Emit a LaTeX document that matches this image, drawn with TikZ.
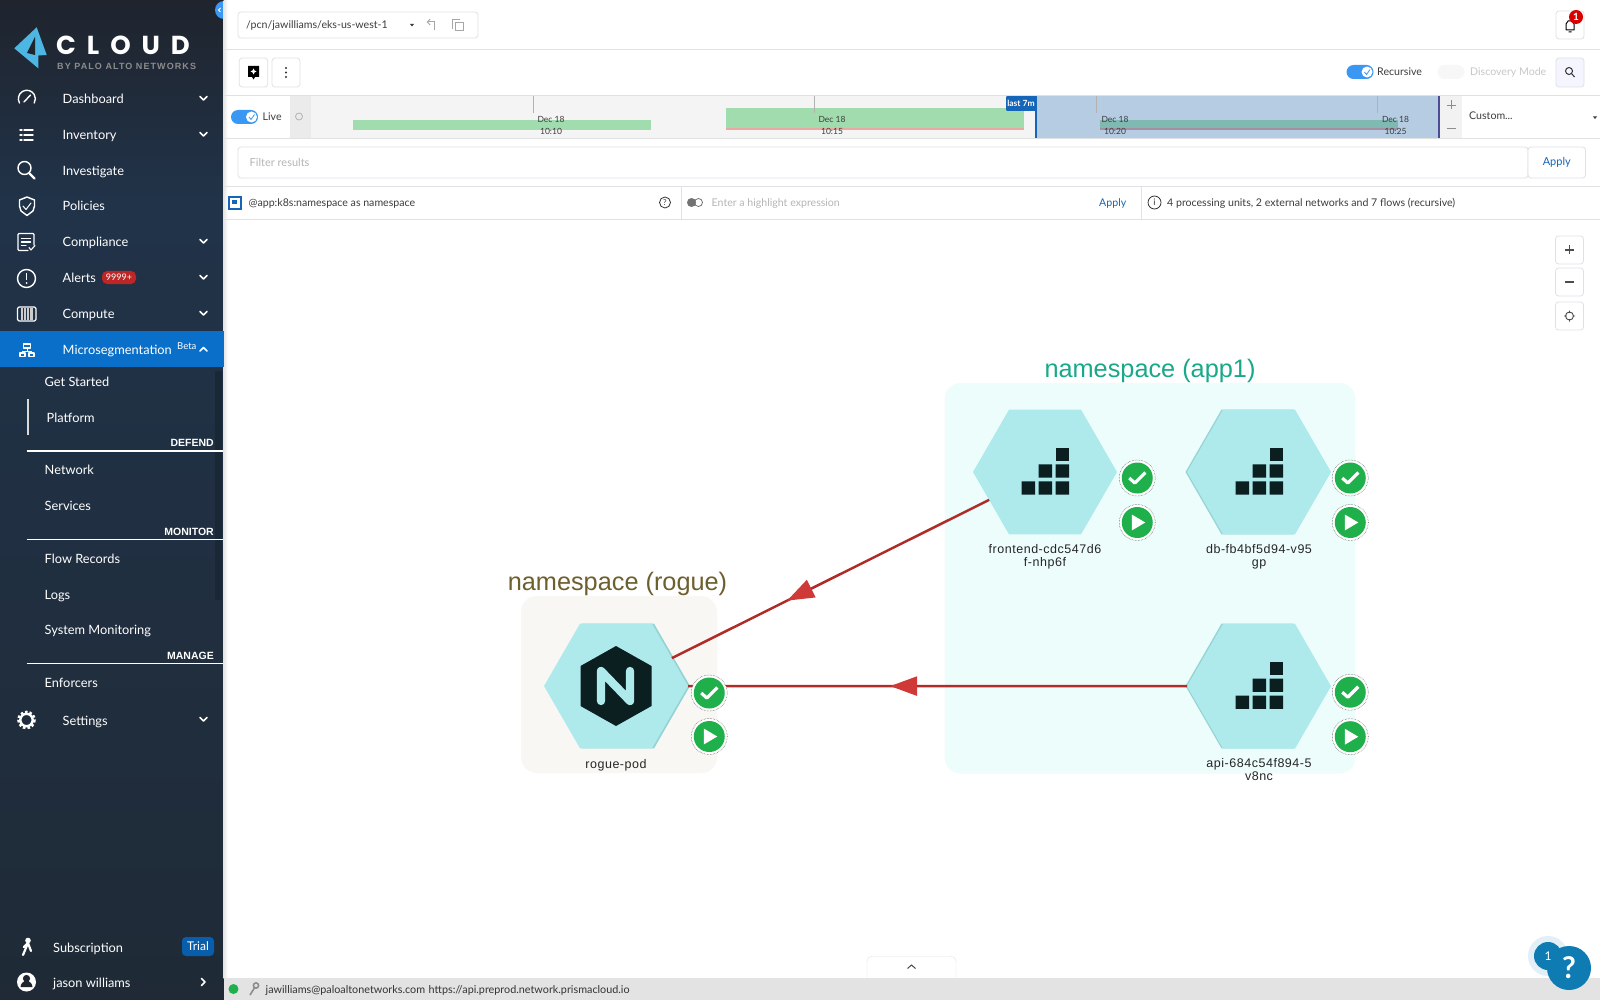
\documentclass[tikz,border=0pt]{standalone}
\usepackage{fontspec}
\setmainfont{Lato}
\newfontfamily\helvfont{Liberation Sans}
\newfontfamily\logofont{Poppins}
\usetikzlibrary{shapes.geometric, arrows.meta, positioning, decorations.markings}

\definecolor{sidetop}{HTML}{1F242D}
\definecolor{sidemid}{HTML}{213349}
\definecolor{sideend}{HTML}{1F2A36}
\definecolor{sideblue}{HTML}{0A6FC9}
\definecolor{sidescroll}{HTML}{1A2836}
\definecolor{logoblue}{HTML}{4DB6E2}
\definecolor{linkblue}{HTML}{1565B8}
\definecolor{togglebg}{HTML}{3A97F3}
\definecolor{rulegrey}{HTML}{DFE1E3}
\definecolor{textgrey}{HTML}{3C3C3C}
\definecolor{paletext}{HTML}{B5B5B5}
\definecolor{tlgrey}{HTML}{F4F4F4}
\definecolor{tlgreen}{HTML}{A0DCAE}
\definecolor{tlred}{HTML}{EBA8A0}
\definecolor{tlblue}{HTML}{B6CCE3}
\definecolor{tlteal}{HTML}{7FB9B2}
\definecolor{tlmauve}{HTML}{A58EA0}
\definecolor{hexfill}{HTML}{AEEAEC}
\definecolor{hexshade}{HTML}{93D3D3}
\definecolor{hexdark}{HTML}{0B1E20}
\definecolor{appfill}{HTML}{EDFDFB}
\definecolor{roguefill}{HTML}{F9F7F4}
\definecolor{apptitle}{HTML}{1AA88A}
\definecolor{roguetitle}{HTML}{6E5F2E}
\definecolor{flowline}{HTML}{B02C28}
\definecolor{flowhead}{HTML}{CF3A38}
\definecolor{badgegreen}{HTML}{1FB04B}
\definecolor{helpblue}{HTML}{0E7BB3}

\tikzstyle{sideitem} = [anchor=base west, inner sep=0pt, text=white, font=\fontsize{12.8}{15}\selectfont]
\tikzstyle{sidehead} = [anchor=base east, inner sep=0pt, text=white, font=\helvfont\bfseries\fontsize{10.5}{12}\selectfont]
\tikzstyle{sideicon} = [white, line width=1.4pt, line cap=round, line join=round]
\tikzstyle{chevron} = [white, line width=1.5pt, line cap=round, line join=round]
\tikzstyle{siderule} = [white, line width=1.2pt]
\tikzstyle{uibutton} = [rectangle, rounded corners=3pt, draw=rulegrey, fill=white, inner sep=0pt, line width=.8pt]
\tikzstyle{uitext} = [anchor=base west, inner sep=0pt, text=textgrey, font=\fontsize{10.6}{13}\selectfont]
\tikzstyle{uirule} = [rulegrey, line width=.9pt]
\tikzstyle{ticktext} = [anchor=base, inner sep=0pt, text=textgrey, font=\fontsize{8.5}{10}\selectfont]
\tikzstyle{tick} = [black!30, line width=.6pt]
\tikzstyle{toggle} = [rectangle, rounded corners=7pt, fill=togglebg, inner sep=0pt, minimum width=27pt, minimum height=14pt]
\tikzstyle{groupbox} = [rectangle, rounded corners=16pt, inner sep=0pt]
\tikzstyle{grouptitle} = [inner sep=0pt, font=\helvfont\fontsize{25.3}{29}\selectfont]
\tikzstyle{podshade} = [regular polygon, regular polygon sides=6, minimum size=144pt, inner sep=0pt, outer sep=0pt, fill=hexshade]
\tikzstyle{stackhex} = [regular polygon, regular polygon sides=6, minimum size=144pt, inner sep=0pt, outer sep=0pt, fill=hexfill,
  path picture={\begin{scope}[shift={(path picture bounding box.center)}]
    \fill [hexdark] (-23.3,9.3) rectangle ++(13.3,13.3) (-6.3,9.3) rectangle ++(13.3,13.3) (10.7,9.3) rectangle ++(13.3,13.3);
    \fill [hexdark] (-6.3,-7.7) rectangle ++(13.3,13.3) (10.7,-7.7) rectangle ++(13.3,13.3);
    \fill [hexdark] (10.7,-24.4) rectangle ++(13.3,13.3);
  \end{scope}}]
\tikzstyle{nginxhex} = [regular polygon, regular polygon sides=6, minimum size=144pt, inner sep=0pt, outer sep=0pt, fill=hexfill,
  path picture={\begin{scope}[shift={(path picture bounding box.center)}]
    \fill [hexdark] (0,-40) -- (35.5,-20) -- (35.5,20) -- (0,40) -- (-35.5,20) -- (-35.5,-20) -- cycle;
    \draw [hexfill, line width=8.3pt, line cap=round, line join=round] (-15,15) -- (-15,-15) -- (14,15) -- (14,-15);
  \end{scope}}]
\tikzstyle{podlabel} = [inner sep=0pt, align=center, text=black!85, font=\helvfont\fontsize{12.5}{13}\selectfont\addfontfeature{LetterSpace=4.2}]
\tikzstyle{okbadge} = [circle, minimum size=36pt, inner sep=0pt, draw=black!70, densely dotted, line width=.5pt, fill=white,
  path picture={\begin{scope}[shift={(path picture bounding box.center)}]
    \fill [badgegreen] (0,0) circle [radius=15.5pt];
    \draw [white, solid, line width=3.2pt, line join=round] (-8,0) -- (-2.5,5) -- (8,-5.5);
  \end{scope}}]
\tikzstyle{playbadge} = [circle, minimum size=36pt, inner sep=0pt, draw=black!70, densely dotted, line width=.5pt, fill=white,
  path picture={\begin{scope}[shift={(path picture bounding box.center)}]
    \fill [badgegreen] (0,0) circle [radius=15.5pt];
    \fill [white] (-5.5,-8) -- (8,0) -- (-5.5,8) -- cycle;
  \end{scope}}]
\tikzstyle{flow} = [flowline, line width=2.5pt, postaction={decorate}]
\tikzstyle{flowarrow} = [decoration={markings, mark=at position #1 with {\arrow{Triangle[length=27pt,width=19pt,color=flowhead]}}}]

\begin{document}
\begin{tikzpicture}[x=1pt, y=-1pt]
\useasboundingbox (0,0) rectangle (1600,1000);

% Sidebar
\shade [top color=sidetop, bottom color=sidemid] (0,0) rectangle (224,200);
\shade [top color=sidemid, bottom color=sideend] (0,200) rectangle (224,1000);
\fill [togglebg] (224,10) circle [radius=9];
\draw [white, line width=1pt] (220.5,8) -- (218.5,10) -- (220.5,12);
\fill [white] (223.5,0) rectangle (1600,1000);
\shade [left color=black!10, right color=white] (223.5,0) rectangle (228,978);
\fill [sideblue] (0,331) rectangle (224,367);
\fill [sidescroll] (215,371) rectangle (222,600);

% Logo
\fill [logoblue] (36.7,27.3) -- (46.7,55) -- (38.3,55.5) -- (38.3,68.3) -- (14.3,48.3) -- cycle;
\fill [sidetop] (35,37) -- (27,53) -- (35,55) -- cycle;
\node (cloudword) [anchor=base west, inner sep=0pt, text=white, font=\logofont\bfseries\fontsize{26}{28}\selectfont\addfontfeature{LetterSpace=42}] at (56,55) {CLOUD};
\node (cloudsub) [anchor=base west, inner sep=0pt, text=black!45, font=\helvfont\bfseries\fontsize{9}{10}\selectfont\addfontfeature{LetterSpace=12}] at (57,70) {BY PALO ALTO NETWORKS};

% Sidebar entries
\node (dashboard) [sideitem] at (62.5,104) {Dashboard};
\node (inventory) [sideitem] at (62.5,140) {Inventory};
\node (investigate) [sideitem] at (62.5,176) {Investigate};
\node (policies) [sideitem] at (62.5,211) {Policies};
\node (compliance) [sideitem] at (62.5,247) {Compliance};
\node (alerts) [sideitem] at (62.5,283) {Alerts};
\node (compute) [sideitem] at (62.5,318) {Compute};
\node (microseg) [sideitem] at (62.5,354) {Microsegmentation};
\node (getstarted) [sideitem] at (44.5,386) {Get Started};
\node (platform) [sideitem] at (46.5,422) {Platform};
\node (network) [sideitem] at (44.5,474) {Network};
\node (services) [sideitem] at (44.5,510) {Services};
\node (flowrecords) [sideitem] at (44.5,563) {Flow Records};
\node (logs) [sideitem] at (44.5,599) {Logs};
\node (sysmon) [sideitem] at (44.5,634) {System Monitoring};
\node (enforcers) [sideitem] at (44.5,687) {Enforcers};
\node (settings) [sideitem] at (62.5,725) {Settings};
\node (subscription) [sideitem] at (53,952) {Subscription};
\node (jason) [sideitem] at (53,987) {jason williams};
\node (defend) [sidehead] at (214,446.5) {DEFEND};
\node (monitor) [sidehead] at (214,535) {MONITOR};
\node (manage) [sidehead] at (214,659) {MANAGE};
\node (betatag) [anchor=base west, inner sep=0pt, text=white, font=\fontsize{9.5}{11}\selectfont] at (177,349) {Beta};
\node (alertcount) [rectangle, rounded corners=5pt, fill=red!70!black!85, text=white, inner sep=0pt, minimum width=34pt, minimum height=13pt, font=\fontsize{9}{10}\selectfont] at (119,277.5) {9999+};
\node (trialtag) [rectangle, rounded corners=4pt, fill=sideblue!85!black, text=white, inner sep=0pt, minimum width=32pt, minimum height=19pt, font=\fontsize{12}{14}\selectfont] at (198,946.5) {Trial};
\draw [siderule] (26.7,451) -- (223,451);
\draw [siderule] (26.7,539.7) -- (223,539.7);
\draw [siderule] (26.7,663.7) -- (223,663.7);
\draw [white!85!black, line width=2.2pt] (27.7,399) -- (27.7,435);

% Chevrons
\draw [chevron] (200,96.5) -- (203.5,100) -- (207,96.5);
\draw [chevron] (200,132.5) -- (203.5,136) -- (207,132.5);
\draw [chevron] (200,239.5) -- (203.5,243) -- (207,239.5);
\draw [chevron] (200,275.5) -- (203.5,279) -- (207,275.5);
\draw [chevron] (200,311.5) -- (203.5,315) -- (207,311.5);
\draw [chevron] (200,351) -- (203.5,347.5) -- (207,351);
\draw [chevron] (200,717.5) -- (203.5,721) -- (207,717.5);
\draw [chevron] (201.5,978.5) -- (205,982) -- (201.5,985.5);

% Sidebar icons
\draw [sideicon] (19.5,103) arc [start angle=150, end angle=390, radius=8.5];
\draw [sideicon] (24,102) -- (30.5,95);
\draw [sideicon] (24,130) -- (33,130) (24,135) -- (33,135) (24,140) -- (33,140) (20,130) -- (22,130) (20,135) -- (22,135) (20,140) -- (22,140);
\draw [sideicon] (24.5,168) circle [radius=6.5];
\draw [sideicon, line width=2.4pt] (29.5,173.5) -- (34.5,178.5);
\draw [sideicon] (27,197) -- (34.5,200) -- (34.5,206) -- (33,211) -- (27,215.5) -- (21,211) -- (19.5,206) -- (19.5,200) -- cycle;
\draw [sideicon, line width=1pt] (23,206) -- (26,209.5) -- (31,203);
\draw [sideicon, rounded corners=1pt] (34,245) -- (34,233.5) -- (18,233.5) -- (18,250.5) -- (28,250.5);
\draw [sideicon] (21.5,238.5) -- (30.5,238.5) (21.5,242) -- (30.5,242) (21.5,245.5) -- (26,245.5);
\draw [sideicon, line width=1.1pt] (29,247.5) -- (31,250) -- (35,245.5);
\draw [sideicon] (26.5,278.5) circle [radius=9];
\draw [sideicon] (26.5,273.5) -- (26.5,279.5);
\fill [white] (26.5,283) circle [radius=1];
\draw [sideicon, rounded corners=1.5pt, line width=1.1pt] (17.5,307) rectangle (36,321);
\fill [white!80!black] (21,308) rectangle (33,320);
\draw [sidemid, line width=.7pt] (23.5,308) -- (23.5,320) (26.5,308) -- (26.5,320) (29.5,308) -- (29.5,320);
\draw [sideicon, line width=1.2pt] (23.5,344) rectangle (30.5,348) (20,353) rectangle (25,356.5) (29,353) rectangle (34,356.5);
\draw [sideicon, line width=1pt] (27,348) -- (27,351) (22.5,353) -- (22.5,351) -- (31.5,351) -- (31.5,353);
\draw [white, line width=2.6pt, dash pattern=on 2.5pt off 2pt] (26.5,720) circle [radius=8];
\draw [white, line width=2.4pt] (26.5,720) circle [radius=6.2];
\draw [sideicon, line width=2.2pt] (23,955) -- (28,943) -- (31,951) (28,943) -- (24,947);
\fill [white] (28,940.5) circle [radius=2.8];
\fill [white] (26.5,982) circle [radius=9.5];
\fill [sidetop] (26.5,978.5) circle [radius=3.6] (20.5,987) arc [start angle=180, end angle=360, radius=6];

% Top bar
\node (pathbox) [uibutton, minimum width=240pt, minimum height=26pt] at (358,25) {};
\node (pathtext) [uitext] at (246,29) {/pcn/jawilliams/eks-us-west-1};
\fill [textgrey] (410,24) -- (414,24) -- (412,26.5) -- cycle;
\draw [black!35, line width=1pt, -{Straight Barb[length=3pt]}] (434,30) -- (434,22) -- (426.5,22);
\draw [black!35, line width=1pt] (455,22.5) rectangle (463,31) (453,29) -- (452,29) -- (452,20) -- (460,20);
\node (bellbutton) [uibutton, minimum width=28pt, minimum height=28pt] at (1570,25) {};
\draw [black, line width=1pt, line join=round] (1566,30) -- (1566,24) -- (1568,21) -- (1572,21) -- (1574,24) -- (1574,30) -- cycle (1568.5,32) -- (1571.5,32);
\node (bellcount) [circle, fill=red!85!black, text=white, inner sep=0pt, minimum size=14pt, font=\bfseries\fontsize{10}{12}\selectfont] at (1576,17) {1};
\draw [uirule] (224,49.5) -- (1600,49.5);

% Tool row
\node (pinbutton) [uibutton, minimum width=28.5pt, minimum height=29pt] at (253.5,72.5) {};
\node (morebutton) [uibutton, minimum width=28pt, minimum height=29pt] at (286,72.5) {};
\fill [black] (248,66) rectangle (259,77) (252,77) -- (255,77) -- (253.5,79.5) -- cycle;
\fill [white] (253.5,68.5) -- (254.5,70.5) -- (256.5,71.5) -- (254.5,72.5) -- (253.5,74.5) -- (252.5,72.5) -- (250.5,71.5) -- (252.5,70.5) -- cycle;
\fill [black!80] (286,68) circle [radius=1.2] (286,72.5) circle [radius=1.2] (286,77) circle [radius=1.2];
\node (recursivetoggle) [toggle] at (1360,72) {};
\fill [white] (1367,72) circle [radius=5.5];
\draw [togglebg, line width=.8pt] (1364.5,72) -- (1366.5,74.5) -- (1370,69.5);
\node (recursivetext) [uitext] at (1377,76) {Recursive};
\node (discoverytoggle) [toggle, fill=black!3] at (1451,72) {};
\node (discoverytext) [uitext, text=black!22] at (1470,76) {Discovery Mode};
\node (searchbutton) [uibutton, fill=blue!4, minimum width=28pt, minimum height=29pt] at (1570,72.5) {};
\draw [black!80, line width=1pt] (1569,71) circle [radius=3.5] (1571.5,73.5) -- (1574.5,77);

% Timeline
\fill [black!8] (290,96) rectangle (311,138);
\fill [tlgrey] (311,96) rectangle (1036,138);
\fill [tlblue] (1036,96) rectangle (1439,138);
\fill [black!5] (1439,96) rectangle (1461.5,138);
\fill [tlgreen] (352.5,120) rectangle (651,130);
\fill [tlgreen] (726,108) rectangle (1024,128);
\fill [tlred] (726,128) rectangle (1024,130);
\fill [tlteal] (1100,120) rectangle (1398,128);
\fill [tlmauve] (1100,128) rectangle (1398,130);
\draw [tick] (533,96) -- (533,113);
\draw [tick] (814.5,96) -- (814.5,113);
\draw [tick] (1096,96) -- (1096,113);
\draw [tick] (1377,96) -- (1377,113);
\node (dateone) [ticktext] at (551,123) {Dec 18};
\node (timeone) [ticktext] at (551,135) {10:10};
\node (datetwo) [ticktext] at (832,123) {Dec 18};
\node (timetwo) [ticktext] at (832,135) {10:15};
\node (datethree) [ticktext] at (1115,123) {Dec 18};
\node (timethree) [ticktext] at (1115,135) {10:20};
\node (datefour) [ticktext] at (1395.5,123) {Dec 18};
\node (timefour) [ticktext] at (1395.5,135) {10:25};
\draw [linkblue, line width=1.5pt] (1036,96) -- (1036,138);
\draw [black!30!blue!40!gray, line width=1.5pt] (1439,96) -- (1439,138);
\node (lastflag) [rectangle, rounded corners=1pt, fill=linkblue, text=white, inner sep=0pt, minimum width=30pt, minimum height=15pt, font=\bfseries\fontsize{8.5}{10}\selectfont] at (1021,103.5) {last 7m};
\node (livetoggle) [toggle] at (244.5,117) {};
\fill [white] (251.5,117) circle [radius=5.5];
\draw [togglebg, line width=.8pt] (249,117) -- (251,119.5) -- (254.5,114.5);
\node (livetext) [uitext] at (262.5,121) {Live};
\draw [black!30, line width=.8pt] (299,116.5) circle [radius=3.5];
\draw [black!45, line width=.9pt] (1446.5,105) -- (1455.5,105) (1451,100.5) -- (1451,109.5) (1446.5,128) -- (1455.5,128);
\node (customtext) [uitext] at (1469,120) {Custom...};
\fill [textgrey] (1593,116.5) -- (1597,116.5) -- (1595,119) -- cycle;
\draw [uirule] (224,95.5) -- (1600,95.5);
\draw [uirule] (224,138.5) -- (1600,138.5);

% Filter row
\node (filterbox) [uibutton, minimum width=1290pt, minimum height=31pt] at (883,162.5) {};
\node (filtertext) [uitext, text=paletext, font=\fontsize{11}{13}\selectfont] at (249.5,166.5) {Filter results};
\node (filterapply) [uibutton, minimum width=57.5pt, minimum height=31pt, text=linkblue, font=\fontsize{11}{13}\selectfont] at (1556.75,162.5) {Apply};
\draw [uirule] (224,186) -- (1600,186);

% Highlight row
\draw [linkblue, line width=1.5pt] (229,197) rectangle (241,209);
\fill [linkblue] (232,200) rectangle (236.5,204.5);
\node (groupquery) [uitext] at (248.5,206.5) {@app:k8s:namespace as namespace};
\node (queryhelp) [circle, draw=black!80, line width=.8pt, inner sep=0pt, minimum size=11pt, text=black!80, font=\fontsize{8}{9}\selectfont] at (665,202.5) {?};
\draw [uirule] (681.5,186) -- (681.5,219);
\fill [black!55] (691.5,202.5) circle [radius=4.5];
\draw [black!55, line width=.8pt] (698.5,202.5) circle [radius=4];
\node (hilitetext) [uitext, text=paletext] at (711.5,206.5) {Enter a highlight expression};
\node (hiliteapply) [uitext, text=linkblue] at (1099,206.5) {Apply};
\draw [uirule] (1141,186) -- (1141,219);
\node (infoicon) [circle, draw=black!80, line width=.8pt, inner sep=0pt, minimum size=13pt, text=black!80, font=\fontsize{9}{10}\selectfont] at (1154.5,202.5) {i};
\node (infotext) [uitext] at (1167,206.5) {4 processing units, 2 external networks and 7 flows (recursive)};
\draw [uirule] (224,219) -- (1600,219);

% Zoom buttons
\node (zoomin) [uibutton, minimum width=28pt, minimum height=28pt] at (1569.5,250) {};
\node (zoomout) [uibutton, minimum width=28pt, minimum height=28pt] at (1569.5,282) {};
\node (recenter) [uibutton, minimum width=28pt, minimum height=28pt] at (1569.5,316) {};
\draw [black!70, line width=1.2pt] (1565,250) -- (1574,250) (1569.5,245.5) -- (1569.5,254.5);
\draw [black!70, line width=1.2pt] (1565,282) -- (1574,282);
\draw [black!70, line width=.9pt] (1569.5,316) circle [radius=4] (1564,316) -- (1566.5,316) (1572.5,316) -- (1575,316) (1569.5,310.5) -- (1569.5,313) (1569.5,319) -- (1569.5,321.5);

% Groups
\node (appbox) [groupbox, fill=appfill, minimum width=410.5pt, minimum height=390.5pt] at (1150,578.25) {};
\node (roguebox) [groupbox, fill=roguefill, minimum width=196pt, minimum height=177pt] at (619,684.5) {};
\node (apptitle) [grouptitle, text=apptitle, above=0pt of appbox] {namespace (app1)};
\node (roguetitle) [grouptitle, text=roguetitle, above=0pt of roguebox, xshift=-1.5pt] {namespace (rogue)};

% Pods
\node (dbshade) [podshade] at (1257.5,472) {};
\node (apishade) [podshade] at (1257.5,686) {};
\node (rogueshade) [podshade] at (618,686) {};
\node (frontend) [stackhex] at (1045,472) {};
\node (db) [stackhex, right=70pt of frontend] {};
\node (api) [stackhex, below=89.5pt of db] {};
\node (roguepod) [nginxhex] at (616,686) {};
\node (frontendname) [podlabel, below=10pt of frontend] {frontend-cdc547d6\\f-nhp6f};
\node (dbname) [podlabel, below=10pt of db] {db-fb4bf5d94-v95\\gp};
\node (apiname) [podlabel, below=10pt of api] {api-684c54f894-5\\v8nc};
\node (roguename) [podlabel, below=10.5pt of roguepod] {rogue-pod};

% Flows
\draw [flow, flowarrow=0.637] (frontend) -- (roguepod);
\draw [flow, flowarrow=0.595] (api) -- (roguepod);

% Badges
\node (frontendok) [okbadge, right=2pt of frontend, yshift=-6pt] {};
\node (frontendplay) [playbadge, below=8pt of frontendok] {};
\node (dbok) [okbadge, right=1pt of db, yshift=-6pt] {};
\node (dbplay) [playbadge, below=8pt of dbok] {};
\node (apiok) [okbadge, right=1pt of api, yshift=-6pt] {};
\node (apiplay) [playbadge, below=8pt of apiok] {};
\node (rogueok) [okbadge, right=3pt of roguepod, yshift=-7pt] {};
\node (rogueplay) [playbadge, below=7pt of rogueok] {};

% Status bar
\fill [black!11] (223.5,978) rectangle (1600,1000);
\node (bottomtab) [rectangle, rounded corners=5pt, draw=rulegrey, fill=white, inner sep=0pt, minimum width=89pt, minimum height=28pt, anchor=north] at (911.5,956) {};
\fill [black!11] (860,978) rectangle (960,990);
\draw [black!70, line width=1pt] (907.5,968.5) -- (911.5,965) -- (915.5,968.5);
\fill [badgegreen] (233.5,989) circle [radius=5];
\draw [black!45, line width=1.6pt] (250,995) -- (255,987);
\draw [black!45, line width=1.6pt] (256,985.5) circle [radius=2.6];
\node (useremail) [uitext, text=black!80, font=\fontsize{10.8}{13}\selectfont] at (265.5,993) {jawilliams@paloaltonetworks.com};
\node (apiurl) [uitext, text=black!80, font=\fontsize{10.8}{13}\selectfont] at (428.5,993) {https://api.preprod.network.prismacloud.io};

% Help
\fill [helpblue!12] (1548,956) circle [radius=20];
\node (helpbubble) [circle, fill=helpblue, text=white, inner sep=0pt, minimum size=44pt, font=\bfseries\fontsize{30}{32}\selectfont] at (1569,968) {?};
\node (helpcount) [circle, fill=helpblue, text=white, inner sep=0pt, minimum size=28pt, font=\fontsize{12}{14}\selectfont] at (1548,956) {1};
\end{tikzpicture}
\end{document}
